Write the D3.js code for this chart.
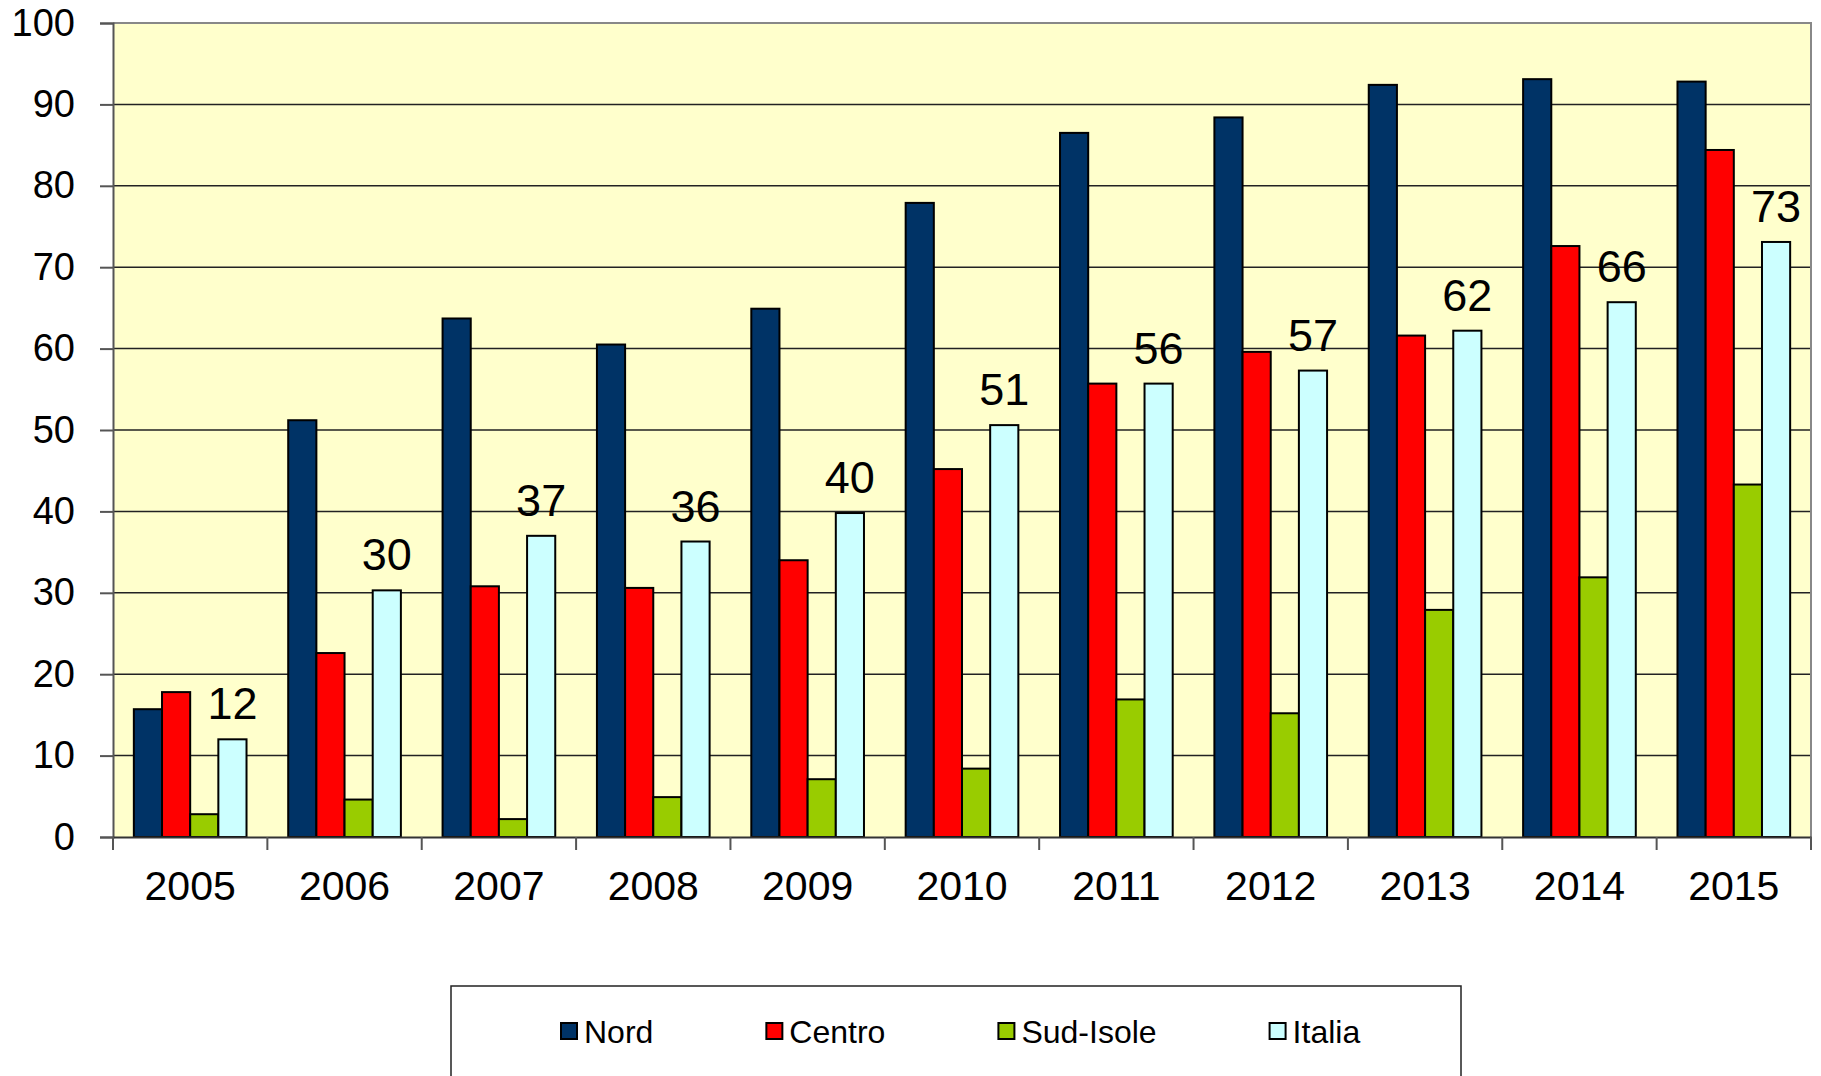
<!DOCTYPE html>
<html>
<head>
<meta charset="utf-8">
<script src="https://cdn.jsdelivr.net/npm/d3@7"></script>
<style>
  body { margin: 0; background: #fff; }
  svg { display: block; font-family: "Liberation Sans", Arial, sans-serif; }
</style>
</head>
<body>
<div id="chart"></div>
<script>
// data
var years = ["2005", "2006", "2007", "2008", "2009", "2010", "2011", "2012", "2013", "2014", "2015"];
var seriesNames = ["Nord", "Centro", "Sud-Isole", "Italia"];
var nord = [15.7, 51.2, 63.7, 60.5, 64.9, 77.9, 86.5, 88.4, 92.4, 93.1, 92.8];
var centro = [17.8, 22.6, 30.8, 30.6, 34.0, 45.2, 55.7, 59.6, 61.6, 72.6, 84.4];
var sudIsole = [2.8, 4.6, 2.2, 4.9, 7.1, 8.4, 16.9, 15.2, 27.9, 31.9, 43.3];
var italia = [12.0, 30.3, 37.0, 36.3, 39.8, 50.6, 55.7, 57.3, 62.2, 65.7, 73.1];
var yTicks = [0, 10, 20, 30, 40, 50, 60, 70, 80, 90, 100];
var colors = ["#003366", "#ff0000", "#99cc00", "#ccffff"];

var svgWidth = 1821;
var svgHeight = 1076;
var margin = { top: 23, right: 10, bottom: 239, left: 113 };
var width = svgWidth - margin.left - margin.right;
var height = svgHeight - margin.top - margin.bottom;

var rows = years.map(function(y, i) {
  return { year: y, values: [nord[i], centro[i], sudIsole[i], italia[i]] };
});

var svg = d3.select("#chart").append("svg")
  .attr("width", svgWidth)
  .attr("height", svgHeight);

var chartGroup = svg.append("g")
  .attr("transform", `translate(${margin.left}, ${margin.top})`);

// scales
var x0 = d3.scaleBand().domain(years).range([0, width]).padding(0);
var x1 = d3.scaleBand().domain(seriesNames).range([0, x0.bandwidth()])
  .paddingInner(0).paddingOuter(0.74);
var y = d3.scaleLinear().domain([0, 100]).range([height, 0]);

// plot background
chartGroup.append("rect")
  .attr("width", width).attr("height", height)
  .attr("fill", "#ffffcc");

// gridlines
chartGroup.append("g").selectAll("line")
  .data(yTicks.filter(function(t) { return t > 0 && t < 100; }))
  .enter().append("line")
  .attr("x1", 0).attr("x2", width)
  .attr("y1", d => y(d)).attr("y2", d => y(d))
  .attr("stroke", "#222").attr("stroke-width", 1.5);

// top + right border
chartGroup.append("path")
  .attr("d", `M0,${y(100)}H${width}V${height}`)
  .attr("fill", "none").attr("stroke", "#888").attr("stroke-width", 2);

// bars
var groups = chartGroup.selectAll(".year")
  .data(rows).enter().append("g")
  .attr("transform", d => `translate(${x0(d.year)},0)`);

groups.selectAll("rect")
  .data(d => d.values.map((v, i) => ({ key: seriesNames[i], value: v, i: i })))
  .enter().append("rect")
  .attr("x", d => x1(d.key))
  .attr("y", d => y(d.value))
  .attr("width", x1.bandwidth())
  .attr("height", d => height - y(d.value))
  .attr("fill", d => colors[d.i])
  .attr("stroke", "#000").attr("stroke-width", 2);

// labels over Italia
groups.append("text")
  .attr("x", x1("Italia") + x1.bandwidth() / 2)
  .attr("y", (d, i) => y(italia[i]) - 20)
  .attr("text-anchor", "middle")
  .attr("font-size", "45px")
  .attr("fill", "#000")
  .text((d, i) => Math.round(italia[i]));

// y axis
var leftAxis = d3.axisLeft(y).tickValues(yTicks).tickSize(13).tickPadding(25);
var yAxisG = chartGroup.append("g").call(leftAxis);
yAxisG.select(".domain").attr("stroke", "#555").attr("stroke-width", 2);
yAxisG.selectAll(".tick line").attr("stroke", "#555").attr("stroke-width", 2);
yAxisG.selectAll("text").attr("font-size", "38px").attr("fill", "#000")
  .attr("font-family", "Liberation Sans, Arial, sans-serif");

// x axis
var bottomAxis = d3.axisBottom(x0).tickSize(0).tickPadding(34);
var xAxisG = chartGroup.append("g")
  .attr("transform", `translate(0, ${height})`)
  .call(bottomAxis);
xAxisG.select(".domain").attr("stroke", "#333").attr("stroke-width", 2);
xAxisG.selectAll("text").attr("font-size", "41px").attr("fill", "#000")
  .attr("font-family", "Liberation Sans, Arial, sans-serif");

// category separators below the axis
chartGroup.append("g").selectAll("line")
  .data(years.concat(["end"]))
  .enter().append("line")
  .attr("x1", d => d === "end" ? width : x0(d))
  .attr("x2", d => d === "end" ? width : x0(d))
  .attr("y1", height).attr("y2", height + 13)
  .attr("stroke", "#555").attr("stroke-width", 2);

// legend
var legend = svg.append("g");
legend.append("rect")
  .attr("x", 451).attr("y", 986)
  .attr("width", 1010).attr("height", 110)
  .attr("fill", "#fff").attr("stroke", "#222").attr("stroke-width", 1.5);

var lx = 561;
seriesNames.forEach(function(name, i) {
  var item = legend.append("g").attr("transform", `translate(${lx}, 1023)`);
  item.append("rect")
    .attr("width", 16).attr("height", 16)
    .attr("fill", colors[i]).attr("stroke", "#000").attr("stroke-width", 2);
  var t = item.append("text")
    .attr("x", 23).attr("y", 8)
    .attr("dy", "0.36em")
    .attr("font-size", "32px")
    .attr("fill", "#000")
    .text(name);
  lx += 23 + t.node().getComputedTextLength() + 113;
});
</script>
</body>
</html>
